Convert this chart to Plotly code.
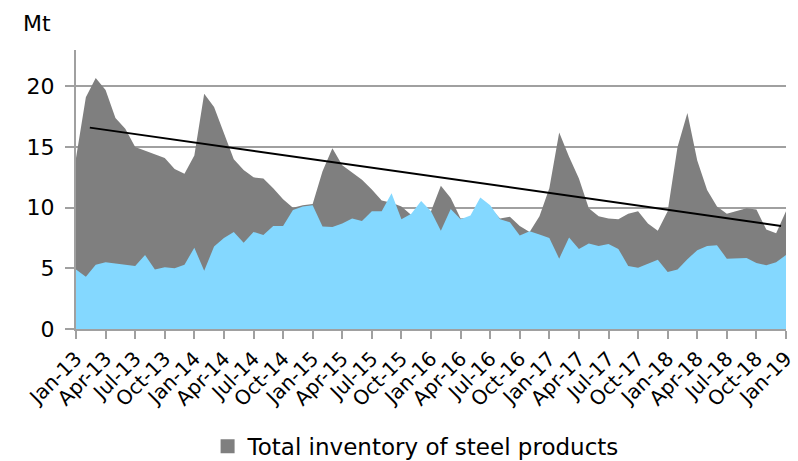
import plotly.graph_objects as go

# Monthly index: 0 = Jan-13 ... 72 = Jan-19
months = list(range(73))

# Total inventory of steel products (Mt)
total_inventory = [
    14.1, 19.1, 20.7, 19.7, 17.4, 16.5, 15.0, 14.7, 14.4, 14.1, 13.2, 12.8,
    14.3, 19.4, 18.3, 16.1, 14.0, 13.1, 12.5, 12.4, 11.6, 10.7, 10.0, 10.2,
    10.3, 13.0, 14.9, 13.5, 12.9, 12.3, 11.5, 10.6, 10.4, 10.1, 9.4, 9.9,
    9.7, 11.8, 10.8, 9.1, 9.2, 9.8, 10.0, 9.1, 9.25, 8.5, 8.0, 9.3,
    11.6, 16.2, 14.2, 12.4, 9.95, 9.3, 9.1, 9.05, 9.5, 9.7, 8.7, 8.1,
    9.7, 15.0, 17.8, 13.9, 11.45, 10.1, 9.5, 9.75, 9.95, 9.85, 8.2, 7.9,
    9.7,
]

# Component inventory drawn in front (Mt)
component_inventory = [
    4.9, 4.3, 5.3, 5.5, 5.4, 5.3, 5.2, 6.1, 4.9, 5.1, 5.0, 5.3,
    6.7, 4.8, 6.8, 7.5, 8.0, 7.1, 8.0, 7.75, 8.5, 8.5, 9.8, 10.1,
    10.2, 8.45, 8.4, 8.7, 9.1, 8.9, 9.7, 9.7, 11.2, 9.05, 9.5, 10.55,
    9.7, 8.1, 9.9, 9.05, 9.35, 10.85, 10.2, 9.05, 8.8, 7.7, 8.05, 7.8,
    7.5, 5.8, 7.55, 6.6, 7.05, 6.85, 7.0, 6.6, 5.2, 5.05, 5.35, 5.7,
    4.7, 4.9, 5.75, 6.5, 6.85, 6.9, 5.8, 5.8, 5.85, 5.45, 5.25, 5.5,
    6.1,
]

# Linear trend of total inventory (month index, Mt)
trend_x = [1.4, 71.5]
trend_y = [16.6, 8.5]

tick_positions = list(range(0, 73, 3))
tick_labels = [
    "Jan-13", "Apr-13", "Jul-13", "Oct-13",
    "Jan-14", "Apr-14", "Jul-14", "Oct-14",
    "Jan-15", "Apr-15", "Jul-15", "Oct-15",
    "Jan-16", "Apr-16", "Jul-16", "Oct-16",
    "Jan-17", "Apr-17", "Jul-17", "Oct-17",
    "Jan-18", "Apr-18", "Jul-18", "Oct-18",
    "Jan-19",
]

GRAY = "#7F7F7F"
BLUE = "#84D8FF"
AXIS = "#A0A0A0"
FONT = "DejaVu Sans"

fig = go.Figure()

fig.add_trace(go.Scatter(
    x=months, y=total_inventory, mode="lines", fill="tozeroy",
    fillcolor=GRAY, line=dict(width=0, color=GRAY),
    showlegend=False, hoverinfo="skip",
))
fig.add_trace(go.Scatter(
    x=months, y=component_inventory, mode="lines", fill="tozeroy",
    fillcolor=BLUE, line=dict(width=0, color=BLUE),
    showlegend=False, hoverinfo="skip",
))
fig.add_trace(go.Scatter(
    x=trend_x, y=trend_y, mode="lines",
    line=dict(color="black", width=2),
    showlegend=False, hoverinfo="skip",
))
# Legend entry with a square swatch
fig.add_trace(go.Scatter(
    x=[None], y=[None], mode="markers",
    marker=dict(symbol="square", size=14, color=GRAY),
    name="Total inventory of steel products",
))

fig.update_layout(
    width=798, height=461,
    margin=dict(l=76, r=12, t=50, b=132, autoexpand=False),
    paper_bgcolor="white", plot_bgcolor="white",
    font=dict(family=FONT, color="black"),
    showlegend=True,
    legend=dict(
        orientation="h", x=0.479, xanchor="center", y=-0.42, yanchor="middle",
        font=dict(size=23, family=FONT), itemwidth=30,
        bgcolor="rgba(0,0,0,0)",
    ),
    annotations=[dict(
        text="Mt", xref="paper", yref="paper", x=-0.077, y=1.095,
        xanchor="left", yanchor="middle", showarrow=False,
        font=dict(size=22, family=FONT),
    )],
)

fig.update_xaxes(
    range=[0, 72], tickmode="array", tickvals=tick_positions, ticktext=tick_labels,
    tickangle=-45, tickfont=dict(size=20, family=FONT), automargin=False,
    showgrid=False, zeroline=False,
    showline=True, linecolor=AXIS, linewidth=2,
    ticks="outside", ticklen=8, tickwidth=2, tickcolor=AXIS,
)
fig.update_yaxes(
    range=[0, 23], tickvals=[0, 5, 10, 15, 20], automargin=False,
    tickfont=dict(size=22, family=FONT),
    showgrid=True, gridcolor=AXIS, gridwidth=2, zeroline=False,
    showline=True, linecolor=AXIS, linewidth=2,
    ticks="outside", ticklen=9, tickwidth=2, tickcolor=AXIS,
    ticklabelstandoff=6,
)

fig.write_html("out.html")
